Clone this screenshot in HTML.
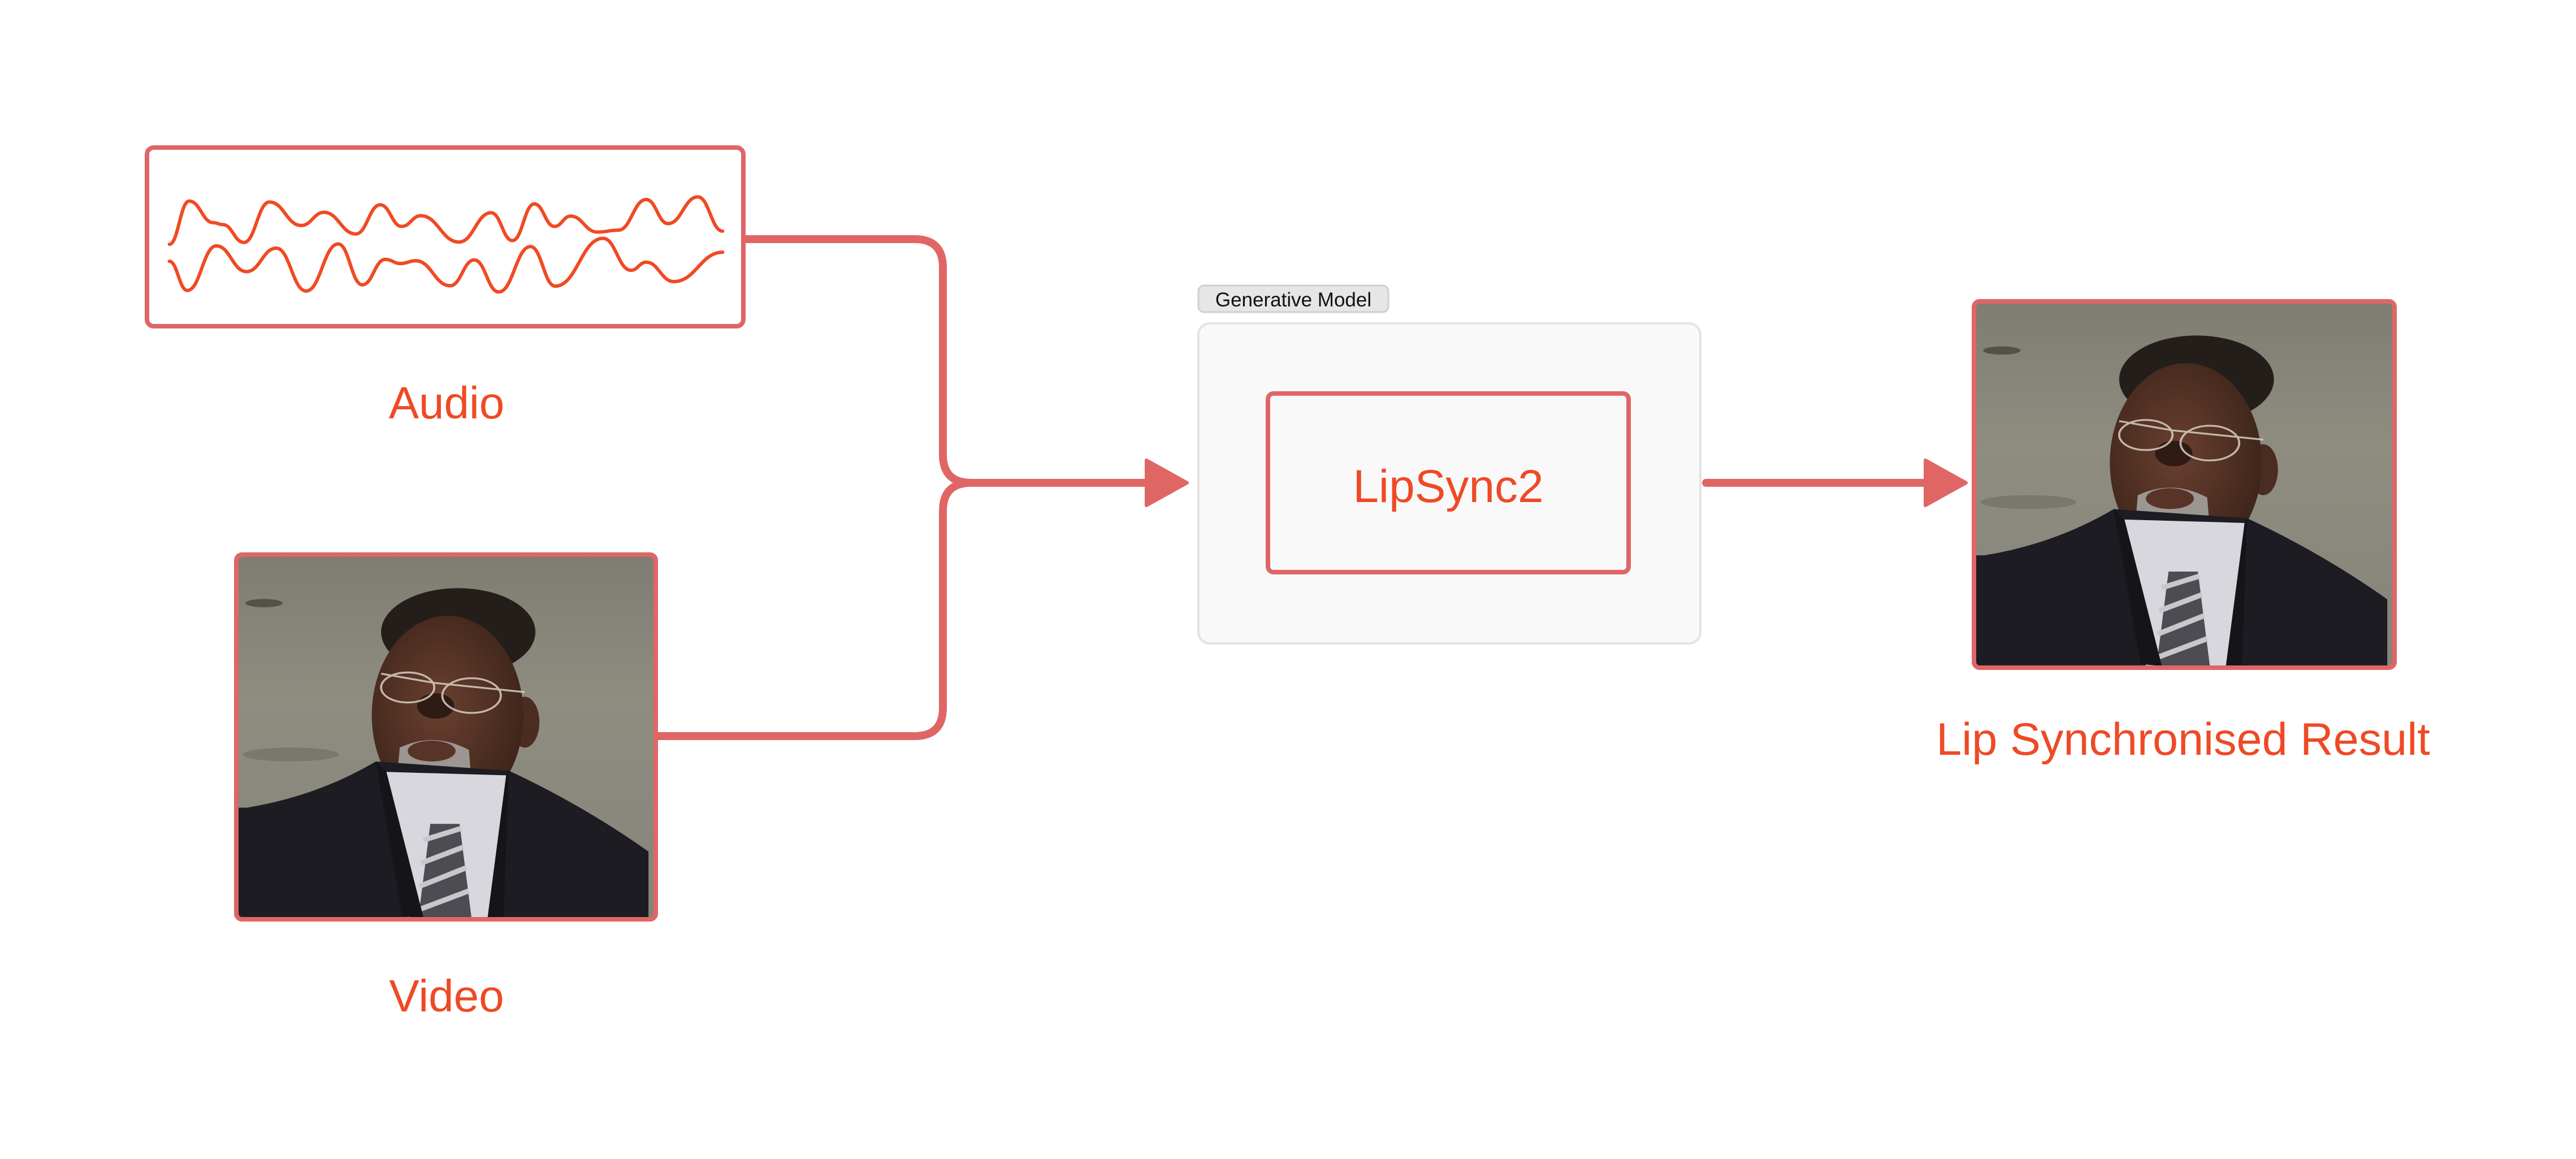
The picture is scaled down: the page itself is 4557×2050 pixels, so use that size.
<!DOCTYPE html>
<html><head><meta charset="utf-8"><style>
html,body{margin:0;padding:0;background:#fff;}
svg{display:block;}
</style></head><body>
<svg width="4557" height="2050" viewBox="0 0 4557 2050" xmlns="http://www.w3.org/2000/svg">
<defs>
<linearGradient id="bg" x1="0" y1="0" x2="0" y2="1">
<stop offset="0" stop-color="#7f7d72"/><stop offset="0.4" stop-color="#8f8c80"/><stop offset="1" stop-color="#86847a"/>
</linearGradient>
<radialGradient id="skin" cx="0.45" cy="0.45" r="0.6">
<stop offset="0" stop-color="#6a4030"/><stop offset="1" stop-color="#3c2419"/>
</radialGradient>
<symbol id="person" viewBox="0 0 1568 1568" preserveAspectRatio="none">
<rect x="0" y="0" width="1568" height="1568" fill="url(#bg)"/>
<ellipse cx="100" cy="205" rx="70" ry="18" fill="#3d3c38" opacity="0.7"/>
<ellipse cx="200" cy="860" rx="180" ry="30" fill="#6e6c63" opacity="0.6"/>
<ellipse cx="830" cy="330" rx="290" ry="190" fill="#241e1b"/>
<ellipse cx="1080" cy="720" rx="55" ry="110" fill="#4a2c20"/>
<ellipse cx="790" cy="690" rx="285" ry="430" fill="url(#skin)"/>
<path d="M610,830 Q740,760 870,840 L880,980 Q820,1090 720,1080 Q610,1060 600,960 Z" fill="#9b9690"/>
<ellipse cx="730" cy="845" rx="90" ry="45" fill="#5a3328"/>
<ellipse cx="745" cy="650" rx="70" ry="55" fill="#2f1b14"/>
<g fill="none" stroke="#d9cfc3" stroke-width="8" opacity="0.85">
<ellipse cx="640" cy="570" rx="100" ry="65"/>
<ellipse cx="880" cy="605" rx="110" ry="75"/>
<path d="M540,510 L740,550 L1080,590"/>
</g>
<path d="M35,1090 Q300,1040 520,890 L1020,930 Q1300,1080 1545,1280 L1545,1568 L0,1568 L0,1090 Z" fill="#1d1c22"/>
<path d="M555,935 L1010,950 L960,1568 L640,1568 Z" fill="#d9d7de"/>
<path d="M725,1160 L835,1160 L880,1568 L680,1568 Z" fill="#4c4c52"/>
<g stroke="#c8c8cc" stroke-width="22">
<line x1="700" y1="1230" x2="840" y2="1180"/>
<line x1="690" y1="1330" x2="850" y2="1260"/>
<line x1="685" y1="1430" x2="860" y2="1350"/>
<line x1="685" y1="1530" x2="870" y2="1450"/>
</g>
<path d="M520,890 L620,1560 L700,1568 L560,935 Z" fill="#141419"/>
<path d="M1020,930 L1000,1568 L940,1568 L1010,950 Z" fill="#141419"/>
</symbol>
</defs>

<rect x="260" y="261" width="1055" height="316" rx="12" fill="#fff" stroke="#e06666" stroke-width="8"/>
<g transform="translate(259,259) scale(0.676,0.333)">
<path id="w1" fill="none" stroke="#f04a23" stroke-width="6" vector-effect="non-scaling-stroke" stroke-linecap="round"/>
<path id="w2" fill="none" stroke="#f04a23" stroke-width="6" vector-effect="non-scaling-stroke" stroke-linecap="round"/>
</g>
<text x="790" y="740" text-anchor="middle" font-family="Liberation Sans, sans-serif" font-size="80" fill="#ee4a25">Audio</text>

<svg x="420" y="983" width="738" height="641" viewBox="0 0 1568 1568" preserveAspectRatio="none"><use href="#person"/></svg>
<rect x="418" y="981" width="742" height="645" rx="10" fill="none" stroke="#e06666" stroke-width="8"/>
<text x="790" y="1789" text-anchor="middle" font-family="Liberation Sans, sans-serif" font-size="80" fill="#ee4a25">Video</text>

<g fill="none" stroke="#e06666" stroke-width="14">
<path d="M1318,423 L1618,423 Q1668,423 1668,473 L1668,804 Q1668,854 1718,854 L2040,854"/>
<path d="M1160,1302 L1618,1302 Q1668,1302 1668,1252 L1668,904 Q1668,854 1718,854"/>
<line x1="3018" y1="854" x2="3420" y2="854" stroke-linecap="round"/>
</g>
<path d="M2028,814 L2100,854 L2028,894 Z" fill="#e06666" stroke="#e06666" stroke-width="6" stroke-linejoin="round"/>
<path d="M3406,814 L3478,854 L3406,894 Z" fill="#e06666" stroke="#e06666" stroke-width="6" stroke-linejoin="round"/>

<rect x="2120" y="505" width="336" height="47" rx="10" fill="#e6e6e6" stroke="#cfcfcf" stroke-width="3"/>
<text x="2288" y="542" text-anchor="middle" font-family="Liberation Sans, sans-serif" font-size="35" fill="#111">Generative Model</text>
<rect x="2120" y="572" width="888" height="566" rx="20" fill="#f9f9f9" stroke="#e3e3e3" stroke-width="4"/>
<rect x="2243" y="696" width="638" height="316" rx="10" fill="#f9f9f9" stroke="#e06666" stroke-width="8"/>
<text x="2562" y="888" text-anchor="middle" font-family="Liberation Sans, sans-serif" font-size="82" fill="#ee4a25">LipSync2</text>

<svg x="3494" y="536" width="740" height="642" viewBox="0 0 1568 1568" preserveAspectRatio="none"><use href="#person"/></svg>
<rect x="3492" y="533" width="744" height="648" rx="10" fill="none" stroke="#e06666" stroke-width="8"/>
<text x="3862" y="1335" text-anchor="middle" font-family="Liberation Sans, sans-serif" font-size="81" fill="#ee4a25">Lip Synchronised Result</text>
</svg>
<script>
function mk(p){var d="M"+p[0][0]+","+p[0][1];for(var i=1;i<p.length;i++){var a=p[i-1],b=p[i],dx=(b[0]-a[0])*0.45;d+=" C"+(a[0]+dx)+","+a[1]+" "+(b[0]-dx)+","+b[1]+" "+b[0]+","+b[1];}return d;}
var p1=[[60,520],[112,290],[175,405],[200,415],[255,510],[322,295],[405,420],[465,350],[548,465],[612,310],[668,425],[718,368],[818,508],[902,352],[958,500],[1015,305],[1068,425],[1110,370],[1180,455],[1235,445],[1308,282],[1365,410],[1443,268],[1508,450]];
var p2=[[60,610],[107,765],[183,528],[262,665],[340,540],[418,768],[502,518],[565,735],[625,600],[665,622],[705,607],[795,740],[858,603],[922,773],[1005,532],[1070,742],[1195,488],[1268,658],[1308,615],[1380,718],[1508,562]];
document.getElementById("w1").setAttribute("d",mk(p1));
document.getElementById("w2").setAttribute("d",mk(p2));
</script>
</body></html>
